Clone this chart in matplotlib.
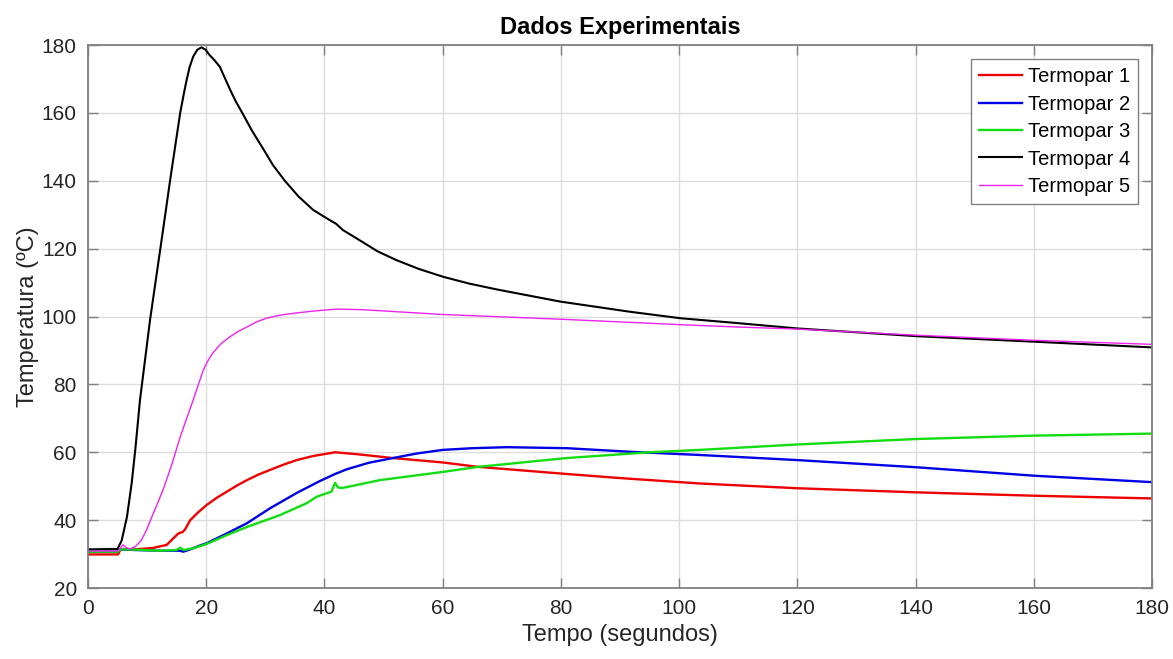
"""Curvas de temperatura dos cinco termopares (dados experimentais)."""

import matplotlib

matplotlib.use("Agg")
import matplotlib.pyplot as plt

# --- Dados (tempo em s, temperatura em ºC) ---
T1_TEMPO = [0, 5.1, 5.5, 8.0, 11.0, 13.3, 15.3, 16.0, 16.4, 17.3, 18.7, 20.1,
            21.8, 23.5, 25.2, 26.9, 28.8, 30.8, 33.0, 35.3, 38.1, 41.8, 45.7,
            51.6, 60.0, 66.0, 81.0, 90.0, 103.5, 120, 140, 160, 180]
T1_TEMP = [29.9, 29.9, 31.4, 31.4, 31.8, 32.7, 36.1, 36.5, 37.2, 40.0, 42.4,
           44.5, 46.6, 48.4, 50.2, 51.8, 53.4, 54.8, 56.3, 57.7, 58.9, 60.0,
           59.4, 58.3, 57.0, 55.7, 53.6, 52.4, 50.8, 49.4, 48.2, 47.2, 46.4]

T2_TEMPO = [0, 5.1, 5.5, 8.0, 12.0, 15.6, 16.1, 17.0, 18.9, 20.1, 23.5, 26.9,
            30.8, 35.3, 39.2, 41.8, 43.8, 47.5, 51.6, 55.5, 60.0, 65.0, 70.9,
            81.0, 92.2, 103.5, 120, 140, 160, 180]
T2_TEMP = [30.7, 30.7, 31.4, 31.2, 31.0, 31.0, 30.7, 31.2, 32.5, 33.2, 36.1,
           39.1, 43.5, 48.0, 51.5, 53.6, 55.0, 56.9, 58.3, 59.6, 60.7, 61.2,
           61.5, 61.2, 60.1, 59.2, 57.7, 55.6, 53.1, 51.2]

T3_TEMPO = [0, 5.1, 5.5, 8.0, 12.0, 15.0, 15.6, 16.2, 18.0, 20.1, 23.5, 26.9,
            32.5, 37.0, 38.7, 41.2, 41.8, 42.3, 43.1, 49.4, 60.0, 66.0, 81.0,
            95.0, 103.5, 120, 140, 160, 180]
T3_TEMP = [30.7, 30.7, 31.4, 31.3, 31.0, 31.2, 31.9, 31.2, 31.8, 33.0, 35.6,
           38.0, 41.5, 45.0, 46.9, 48.4, 51.0, 49.6, 49.5, 51.8, 54.2, 55.7,
           58.3, 60.0, 60.7, 62.3, 63.9, 64.9, 65.5]

T4_TEMPO = [0, 5.0, 5.7, 6.6, 7.4, 8.0, 8.8, 10.5, 12.7, 13.9, 15.6, 16.2,
            16.7, 17.2, 17.8, 18.5, 19.2, 19.9, 20.6, 21.4, 22.3, 23.1, 24.0,
            25.0, 26.1, 27.8, 29.5, 31.3, 33.3, 35.6, 38.1, 40.9, 42.0, 43.1,
            45.0, 49.0, 52.2, 56.0, 60.1, 64.5, 69.1, 79.9, 91.7, 100.2, 110.3,
            119.9, 140.2, 159.9, 180]
T4_TEMP = [31.4, 31.5, 34.0, 41.0, 51.0, 60.7, 75.4, 99.0, 125.5, 140.2,
           160.0, 165.5, 169.8, 173.5, 176.6, 178.6, 179.3, 178.6, 177.0,
           175.5, 173.6, 170.5, 167.0, 163.4, 160.0, 154.6, 149.8, 144.6,
           140.0, 135.4, 131.4, 128.4, 127.3, 125.5, 123.5, 119.2, 116.6,
           114.0, 111.7, 109.7, 108.0, 104.4, 101.4, 99.5, 98.0, 96.5, 94.2,
           92.6, 90.9]

T5_TEMPO = [0, 5.1, 5.5, 5.9, 6.5, 7.1, 8.0, 9.0, 9.9, 11.3, 12.7, 14.2, 15.6,
            16.5, 17.8, 19.5, 20.3, 21.1, 22.5, 24.0, 25.4, 26.9, 28.5, 30.2,
            32.5, 35.0, 38.1, 42.1, 46.6, 60.0, 80.0, 100.2, 110.0, 120, 140,
            160, 180]
T5_TEMP = [30.9, 30.9, 31.8, 32.7, 31.9, 31.5, 32.2, 34.0, 37.1, 43.0, 48.9,
           56.5, 64.5, 69.0, 75.4, 84.2, 87.0, 89.2, 92.0, 94.0, 95.6, 96.9,
           98.4, 99.5, 100.4, 101.0, 101.6, 102.2, 102.0, 100.6, 99.2, 97.6,
           96.9, 96.3, 94.5, 93.0, 91.8]

ROTULOS = ["Termopar 1", "Termopar 2", "Termopar 3", "Termopar 4", "Termopar 5"]
CORES = ["#ee0000", "#0000e6", "#11dd11", "#000000", "#ee22ee"]
LARGURAS = [1.7, 1.7, 1.7, 1.5, 1.0]


def main() -> None:
    plt.rcParams["font.family"] = ["Liberation Sans", "DejaVu Sans"]

    series = [
        (T1_TEMPO, T1_TEMP),
        (T2_TEMPO, T2_TEMP),
        (T3_TEMPO, T3_TEMP),
        (T4_TEMPO, T4_TEMP),
        (T5_TEMPO, T5_TEMP),
    ]

    fig = plt.figure(figsize=(11.73, 6.59), dpi=100)
    ax = fig.add_axes([0.075, 0.1077, 0.9071, 0.824])

    for (tempo, temp), rotulo, cor, lw in zip(series, ROTULOS, CORES, LARGURAS):
        ax.plot(tempo, temp, color=cor, linewidth=lw, label=rotulo)

    # --- Eixos no estilo MATLAB ---
    ax.set_xlim(0, 180)
    ax.set_ylim(20, 180)
    ax.set_xticks(range(0, 181, 20))
    ax.set_yticks(range(20, 181, 20))
    ax.grid(True, color="#dcdcdc", linewidth=1.0)
    ax.set_axisbelow(True)
    for lado in ax.spines.values():
        lado.set_color("#808080")
        lado.set_linewidth(1.3)
    ax.tick_params(direction="in", length=7.5, width=1.0, color="#808080",
                   top=True, right=True, labelsize=15, labelcolor="#262626",
                   pad=8)

    ax.set_title("Dados Experimentais", fontsize=17, fontweight="bold", pad=8)
    ax.set_xlabel("Tempo (segundos)", fontsize=17, color="#262626", labelpad=4)
    ax.set_ylabel("Temperatura (ºC)", fontsize=17, color="#262626", labelpad=2)

    leg = ax.legend(loc="upper right", fontsize=14.5, fancybox=False,
                    framealpha=1, edgecolor="#808080", handlelength=2.1,
                    handletextpad=0.3, labelspacing=0.42, borderpad=0.4,
                    borderaxespad=0.7)
    leg.get_frame().set_linewidth(1.0)

    fig.savefig("out.png", dpi=100)


if __name__ == "__main__":
    main()
